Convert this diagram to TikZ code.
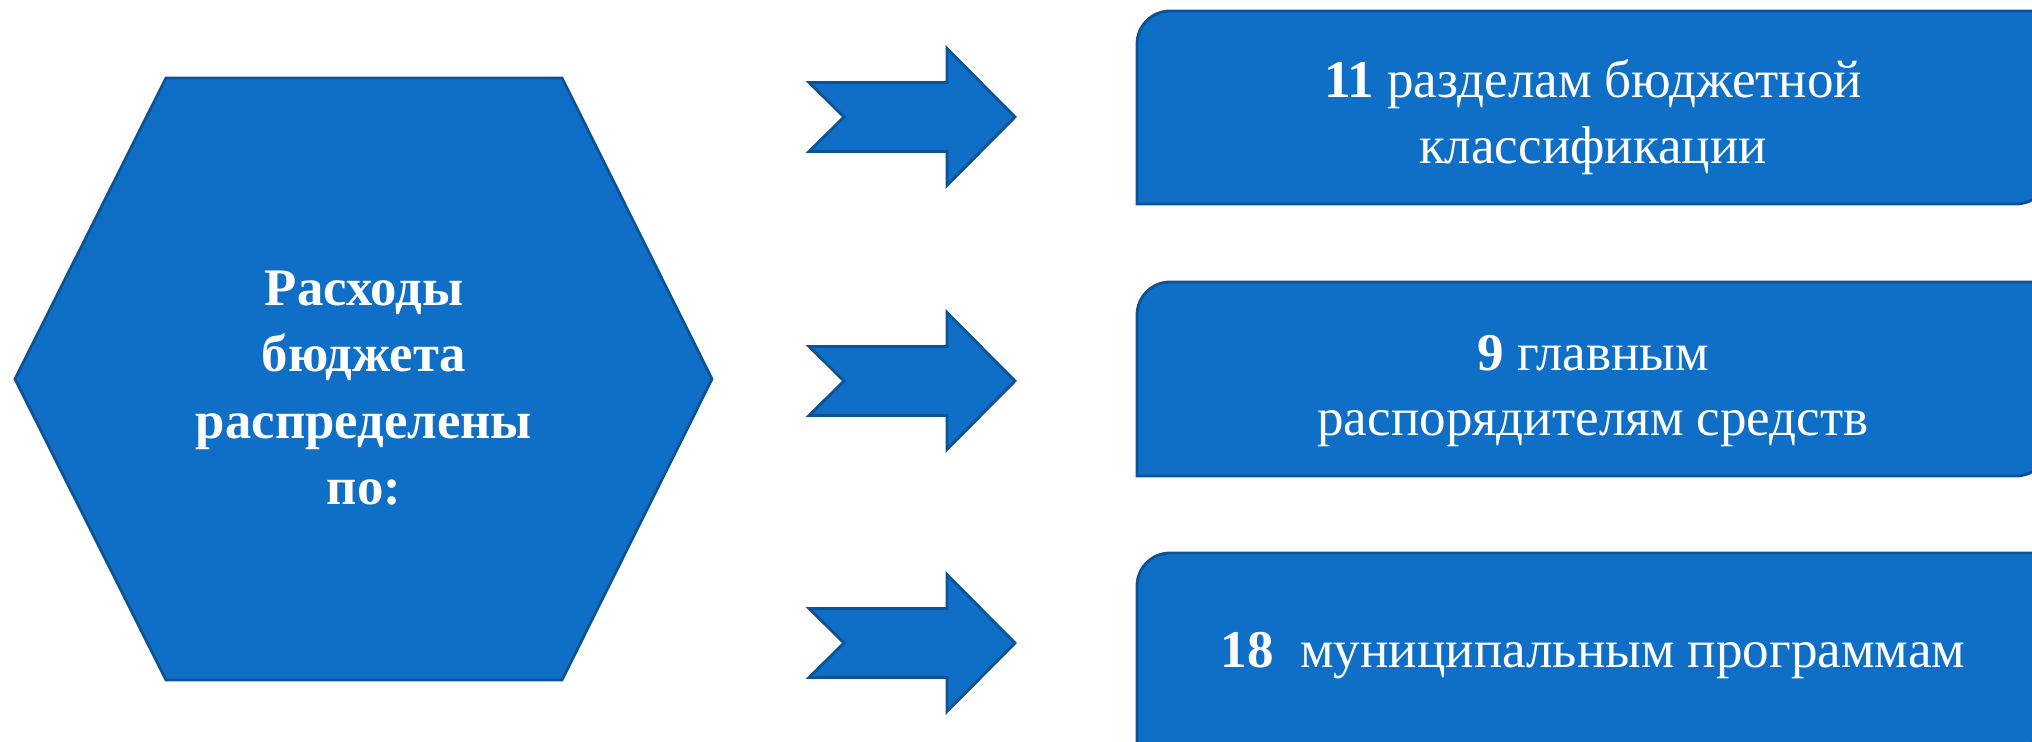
\documentclass[tikz,border=0pt]{standalone}
\usepackage{fontspec}
\setmainfont{Liberation Serif}
\usepackage{tikz}
\definecolor{fillblue}{HTML}{0F6FC6}
\definecolor{lineblue}{HTML}{0B5394}

\begin{document}
\begin{tikzpicture}[scale=1,
    blk/.style={fill=fillblue, draw=lineblue, line width=0.8pt},
    txt/.style={text=white, align=center, font=\fontsize{15.1}{18.6}\selectfont}]
      \useasboundingbox (0,0) rectangle (20.32,7.42);
      \clip (0,0) rectangle (20.32,7.42);
      % hexagon
      \filldraw[blk] (0.15,3.63)--(1.66,6.64)--(5.62,6.64)--(7.12,3.63)--(5.62,0.62)--(1.66,0.62)--cycle;
      \node[txt, font=\fontsize{15}{18.9}\selectfont\bfseries] (rashody) at (3.64,3.54) {Расходы\\бюджета\\распределены\\по:};
      % arrows
      \foreach \y in {6.25,3.61,0.99}
        \filldraw[blk] (8.09,\y+0.345)--(9.47,\y+0.345)--(9.47,\y+0.685)--(10.15,\y)--(9.47,\y-0.685)--(9.47,\y-0.345)--(8.09,\y-0.345)--(8.44,\y)--cycle;
      % boxes
      \foreach \t/\b in {7.31/5.38, 4.60/2.66, 1.89/-0.05}
        \filldraw[blk] (20.49,\t)--(11.70,\t) arc[start angle=90,end angle=180,radius=0.33]--(11.37,\b)--(20.16,\b) arc[start angle=270,end angle=360,radius=0.33]--cycle;
      \node[txt] (razdely) at (15.93,6.25) {\textbf{11} разделам бюджетной\\классификации};
      \node[txt] (glavnye) at (15.93,3.51) {\textbf{9} главным\\распорядителям средств};
      \node[txt] (programmy) at (15.93,0.86) {\textbf{18}\ \ муниципальным программам};
      %\draw[red] (rashody.east)--(razdely.west);
\end{tikzpicture}
\end{document}
